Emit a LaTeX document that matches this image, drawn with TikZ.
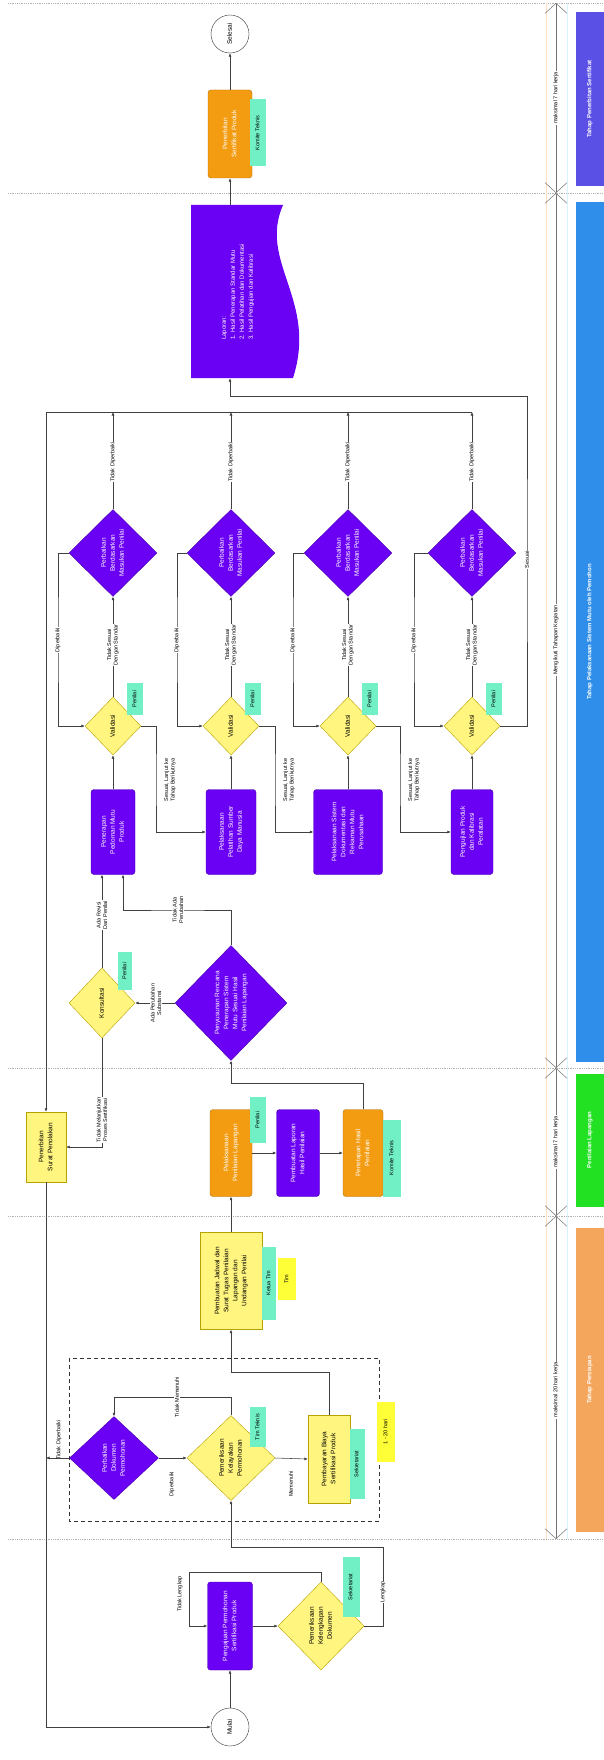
\documentclass[tikz,border=0pt]{standalone}
\usepackage{fontspec}
\setmainfont{Liberation Sans}
\usepackage{graphicx}
\usetikzlibrary{shapes.geometric,arrows.meta,calc}
\definecolor{vio}{HTML}{6A00F4}
\definecolor{viob}{HTML}{4A00B0}
\definecolor{yel}{HTML}{FFF57F}
\definecolor{yelb}{HTML}{B8A200}
\definecolor{org}{HTML}{F39C12}
\definecolor{orgb}{HTML}{B86E00}
\definecolor{mint}{HTML}{70F0C4}
\definecolor{ynt}{HTML}{FFFF38}
\definecolor{bpur}{HTML}{5B50E6}
\definecolor{bblu}{HTML}{2E8EEA}
\definecolor{bgrn}{HTML}{22E022}
\definecolor{born}{HTML}{F4A65C}
\newcommand{\vt}[1]{\rotatebox{90}{\begin{tabular}{@{}c@{}}#1\end{tabular}}}
\tikzset{
  conn/.style={draw=black!75,line width=0.55pt},
  arr/.style={conn,-{Latex[length=3.5pt,width=3pt]}},
  pbox/.style={rectangle,rounded corners=3pt,fill=vio,draw=viob,text=white,inner sep=1pt},
  obox/.style={rectangle,rounded corners=3pt,fill=org,draw=orgb,text=white,inner sep=1pt},
  ybox/.style={rectangle,fill=yel,draw=yelb,inner sep=1pt},
  ydia/.style={diamond,fill=yel,draw=yelb,inner sep=0pt},
  pdia/.style={diamond,fill=vio,draw=viob,text=white,inner sep=0pt},
  glab/.style={rectangle,fill=mint,inner sep=0pt,font=\fontsize{5.5}{6.5}\selectfont},
  ynote/.style={rectangle,fill=ynt,inner sep=0pt,font=\fontsize{5.5}{6.5}\selectfont},
  circ/.style={circle,draw=black!80,fill=white,minimum size=38pt,inner sep=0pt},
  elab/.style={rotate=90,align=center,font=\fontsize{5.5}{6.5}\selectfont,inner sep=0.8pt},
  elabw/.style={elab,fill=white},
  lane/.style={draw=gray!60,densely dotted,line width=0.8pt},
  banner/.style={rectangle,inner sep=0pt,text=white,font=\bfseries\fontsize{6}{7}\selectfont},
  dim/.style={draw=black!55,line width=0.5pt,{Straight Barb[length=10pt,width=22pt]}-{Straight Barb[length=10pt,width=22pt]}},
  dimtxt/.style={rotate=90,fill=white,inner sep=1pt,font=\fontsize{5.5}{6.5}\selectfont},
}
\begin{document}
\begin{tikzpicture}[x=1pt,y=-1pt,font=\fontsize{6.5}{9}\selectfont]
\fill[white] (0,0) rectangle (604,1760);
\useasboundingbox (0,0) rectangle (604,1760);
% lanes
\foreach \yy in {3,193,1068,1216,1539} \draw[lane] (8,\yy) -- (604,\yy);
\draw[draw=orange!25,line width=0.6pt] (546,3) -- (546,1539);
\draw[draw=cyan!15,line width=0.6pt] (567,3) -- (567,1539);
% banners
\node[banner,fill=bpur,minimum width=28pt,minimum height=174pt] (bn1) at (590,99) {\vt{Tahap Penerbitan Sertifikat}};
\node[banner,fill=bblu,minimum width=28pt,minimum height=859pt] (bn2) at (590,632) {\vt{Tahap Pelaksanaan Sistem Mutu oleh Pemohon}};
\node[banner,fill=bgrn,minimum width=28pt,minimum height=133pt] (bn3) at (590,1140) {\vt{Penilaian Lapangan}};
\node[banner,fill=born,minimum width=28pt,minimum height=304pt] (bn4) at (590,1380) {\vt{Tahap Persiapan}};
% dimension arrows
\coordinate (dA0) at (556,3);
\coordinate (dA1) at (556,193);
\coordinate (dA2) at (556,1068);
\coordinate (dA3) at (556,1216);
\coordinate (dA4) at (556,1539);
\draw[dim] (dA0) -- (dA1);
\draw[dim] (dA1) -- (dA2);
\draw[dim] (dA2) -- (dA3);
\draw[dim] (dA3) -- (dA4);
\node[dimtxt] (dt1) at (556,98) {maksimal 7 hari kerja};
\node[dimtxt] (dt2) at (556,640) {Mengikuti Tahapan Kegiatan};
\node[dimtxt] (dt3) at (556,1142) {maksimal 7 hari kerja};
\node[dimtxt] (dt4) at (556,1390) {maksimal 20 hari kerja};

% ---- bottom lane
\node[circ] (mulai) at (230,1727) {\vt{Mulai}};
\node[pbox,minimum width=45pt,minimum height=88pt] (p0) at (230,1626) {\vt{Pengajuan Permohonan\\Sertifikasi Produk}};
\node[ydia,minimum width=86pt,minimum height=88pt] (d0) at (321,1626) {\vt{Pemeriksaan\\Kelengkapan\\Dokumen}};
\node[glab,minimum width=17pt,minimum height=60pt] (g0) at (351,1587) {\vt{Sekretariat}};

% ---- orange lane
\draw[black!80,line width=0.8pt,dash pattern=on 4pt off 3pt] (69,1358) rectangle (379,1521);
\node[ydia,minimum width=88pt,minimum height=85pt] (d1) at (231,1458) {\vt{Pemeriksaan\\Kelayakan\\Permohonan}};
\node[glab,minimum width=16pt,minimum height=40pt] (g1) at (258,1427) {\vt{Tim Teknis}};
\node[pdia,minimum width=89pt,minimum height=83pt] (pd0) at (114,1458) {\vt{Perbaikan\\Dokumen\\Permohonan}};
\node[ybox,minimum width=42pt,minimum height=88pt] (y1) at (329,1459) {\vt{Pembayaran Biaya\\Sertifikasi Produk}};
\node[glab,minimum width=15pt,minimum height=70pt] (g2) at (357,1464) {\vt{Sekretariat}};
\node[ynote,minimum width=18pt,minimum height=60pt] (n1) at (386,1432) {\vt{1 - 20 hari}};
\node[ybox,minimum width=62pt,minimum height=97pt] (y2) at (231,1281) {\vt{Pembuatan Jadwal dan\\Surat Tugas Penilaian\\Lapangan dan\\Undangan Penilai}};
\node[glab,minimum width=14pt,minimum height=73pt] (g3) at (269,1283) {\vt{Ketua Tim}};
\node[ynote,minimum width=18pt,minimum height=42pt] (n2) at (287,1279) {\vt{Tim}};

% ---- green lane
\node[obox,minimum width=42pt,minimum height=87pt] (o1) at (231,1153) {\vt{Pelaksanaan\\Penilaian Lapangan}};
\node[glab,minimum width=16pt,minimum height=46pt] (g4) at (258,1120) {\vt{Penilai}};
\node[pbox,minimum width=43pt,minimum height=87pt] (p1) at (298,1153) {\vt{Pembuatan Laporan\\Hasil Penilaian}};
\node[obox,minimum width=40pt,minimum height=87pt] (o2) at (363,1153) {\vt{Penetapan Hasil\\Penilaian}};
\node[glab,minimum width=18pt,minimum height=77pt] (g5) at (392,1158) {\vt{Komite Teknis}};

% ---- blue lane
\node[pdia,minimum width=112pt,minimum height=115pt] (pd1) at (231,1003) {\vt{Penyusunan Rencana\\Penerapan Sistem\\Mutu Sesuai Hasil\\Penilaian Lapangan}};
\node[ydia,minimum width=66pt,minimum height=70pt] (k) at (102,1003) {\vt{Konsultasi}};
\node[glab,minimum width=14pt,minimum height=38pt] (g6) at (125,971) {\vt{Penilai}};
\node[ybox,minimum width=40pt,minimum height=70pt] (y3) at (46,1147) {\vt{Penerbitan\\Surat Penolakan}};

\node[pbox,minimum width=44pt,minimum height=85pt] (b1) at (113,832) {\vt{Penerapan\\Pedoman Mutu\\Produk}};
\node[pbox,minimum width=50pt,minimum height=85pt] (b2) at (231,832) {\vt{Pelaksanaan\\Pelatihan Sumber\\Daya Manusia}};
\node[pbox,minimum width=69pt,minimum height=85pt] (b3) at (348,832) {\vt{Pelaksanaan Sistem\\Dokumentasi dan\\Rekaman Mutu\\Perusahaan}};
\node[pbox,minimum width=42pt,minimum height=85pt] (b4) at (472,832) {\vt{Pengujian Produk\\dan Kalibrasi\\Peralatan}};

\node[ydia,minimum width=56pt,minimum height=58pt] (v1) at (113,726) {\vt{Validasi}};
\node[ydia,minimum width=56pt,minimum height=58pt] (v2) at (231,726) {\vt{Validasi}};
\node[ydia,minimum width=56pt,minimum height=58pt] (v3) at (348,726) {\vt{Validasi}};
\node[ydia,minimum width=56pt,minimum height=58pt] (v4) at (472,726) {\vt{Validasi}};
\node[glab,minimum width=16pt,minimum height=32pt] (gv1) at (135,699) {\vt{Penilai}};
\node[glab,minimum width=16pt,minimum height=32pt] (gv2) at (253,699) {\vt{Penilai}};
\node[glab,minimum width=16pt,minimum height=32pt] (gv3) at (370,699) {\vt{Penilai}};
\node[glab,minimum width=16pt,minimum height=32pt] (gv4) at (494,699) {\vt{Penilai}};

\node[pdia,minimum width=88pt,minimum height=87pt] (q1) at (113,553) {\vt{Perbaikan\\Berdasarkan\\Masukan Penilai}};
\node[pdia,minimum width=88pt,minimum height=87pt] (q2) at (231,553) {\vt{Perbaikan\\Berdasarkan\\Masukan Penilai}};
\node[pdia,minimum width=88pt,minimum height=87pt] (q3) at (348,553) {\vt{Perbaikan\\Berdasarkan\\Masukan Penilai}};
\node[pdia,minimum width=88pt,minimum height=87pt] (q4) at (472,553) {\vt{Perbaikan\\Berdasarkan\\Masukan Penilai}};

% document
\fill[vio] (191,205) -- (283,205) .. controls (258,262) and (318,300) .. (293,378) -- (191,378) -- cycle;
\node[minimum width=106pt,minimum height=173pt,inner sep=0pt] (doc) at (244,291.5) {};
\node[rotate=90,align=left,text=white,font=\fontsize{6}{9}\selectfont] (doctxt) at (238,292) {Laporan:\\1. Hasil Penerapan Standar Mutu\\2. Hasil Pelatihan dan Dokumentasi\\3. Hasil Pengujian dan Kalibrasi};

% ---- top lane
\node[obox,minimum width=44pt,minimum height=88pt] (o3) at (230,134) {\vt{Penerbitan\\Sertifikat Produk}};
\node[glab,minimum width=16pt,minimum height=67pt] (g7) at (258,133) {\vt{Komite Teknis}};
\node[circ] (selesai) at (230,34) {\vt{Selesai}};

% ---- coordinates
\coordinate (cTL) at (189,1572);
\coordinate (cL) at (383,1547);
\coordinate (cTM) at (177,1397);
\coordinate (cY) at (280,1372);
\coordinate (cO) at (300,1083);
\coordinate (cP) at (178,910);
\coordinate (sp1) at (46,412);
\coordinate (bus2) at (230,396);
\coordinate (L1) at (58,640);
\coordinate (L2) at (177,640);
\coordinate (L3) at (293,640);
\coordinate (L4) at (414,640);
\coordinate (R1) at (156,780);
\coordinate (R2) at (275,780);
\coordinate (R3) at (400,780);
\coordinate (R4) at (527,560);

% ---- connectors
\draw[arr] (mulai) -- (p0);
\draw[arr] (p0) -- (d0);
\draw[arr] (d0.north) |- (cTL) |- (p0.west);
\draw[arr] (d0.east) -| (cL) -| (d1.south);
\draw[arr] (d1.north) |- (cTM) -| (pd0.north);
\draw[arr] (pd0.east) -- (d1.west);
\draw[arr] (pd0.west) -- (pd0.west -| sp1);
\draw[arr] (d1.east) -- (y1.west);
\draw[arr] (y1.north) |- (cY) -| (y2.south);
\draw[arr] (y2.north) -- (o1.south);
\draw[arr] (o1.east) -- (p1.west);
\draw[arr] (p1.east) -- (o2.west);
\draw[arr] (o2.north) |- (cO) -| (pd1.south);
\draw[arr] (pd1.west) -- (k.east);
\draw[arr] (pd1.north) |- (cP) -| ([xshift=10pt]b1.south);
\draw[arr] (k.north) -- (k.north |- b1.south);
\draw[arr] (k.south) |- (y3.east);
\draw[arr] (sp1) -- (y3.north);
\draw[arr] (y3.south) |- (mulai.west);
\draw[conn] (sp1) -- (sp1 -| q4.north);
\foreach \i in {1,2,3,4}{
  \draw[arr] (b\i.north) -- (v\i.south);
  \draw[arr] (v\i.north) -- (q\i.south);
  \draw[arr] (q\i.north) -- (q\i.north |- sp1);
  \draw[arr] (q\i.west) -| (L\i) |- (v\i.west);
}
\draw[arr] (v1.east) -| (R1) |- (b2.west);
\draw[arr] (v2.east) -| (R2) |- (b3.west);
\draw[arr] (v3.east) -| (R3) |- (b4.west);
\draw[conn] (v4.east) -| (R4) |- (bus2);
\draw[arr] (bus2) -- (bus2 |- doc.south);
\draw[arr] (doc.north -| bus2) -- (o3.south);
\draw[arr] (o3.north) -- (selesai.south);

% ---- connector labels
\node[elab] (lTL) at (180,1594) {Tidak Lengkap};
\node[elabw] (lL) at (383,1592) {Lengkap};
\node[elabw] (lTM) at (cTM) {Tidak Memenuhi};
\node[elab] (lDP) at (172,1484) {Diperbaiki};
\node[elab] (lTD) at (59,1440) {Tidak Diperbaiki};
\node[elab] (lM) at (291,1484) {Memenuhi};
\node[elabw] (lP) at (cP) {Tidak Ada\\Perubahan};
\node[elabw] (lK) at (102,915) {Ada Revisi\\Dari Penilai};
\node[elabw] (lS) at (156,1003) {Ada Perubahan\\Substansi};
\node[elabw] (lR) at (102,1120) {Tidak Melanjutkan\\Proses Sertifikasi};
\foreach \i/\xx in {1/113,2/231,3/348,4/472}{
  \node[elabw] (lv\i) at (\xx,645) {Tidak Sesuai\\Dengan Standar};
  \node[elabw] (lq\i) at (\xx,462) {Tidak Diperbaiki};
}
\foreach \i in {1,2,3,4}{
  \node[elabw] (ll\i) at (L\i) {Diperbaiki};
}
\node[elab] (lr1) at ($(R1)+(14,0)$) {Sesuai, Lanjut ke\\Tahap Berikutnya};
\node[elab] (lr2) at ($(R2)+(14,0)$) {Sesuai, Lanjut ke\\Tahap Berikutnya};
\node[elab] (lr3) at ($(R3)+(14,0)$) {Sesuai, Lanjut ke\\Tahap Berikutnya};
\node[elabw] (lr4) at (R4) {Sesuai};
\end{tikzpicture}
\end{document}
